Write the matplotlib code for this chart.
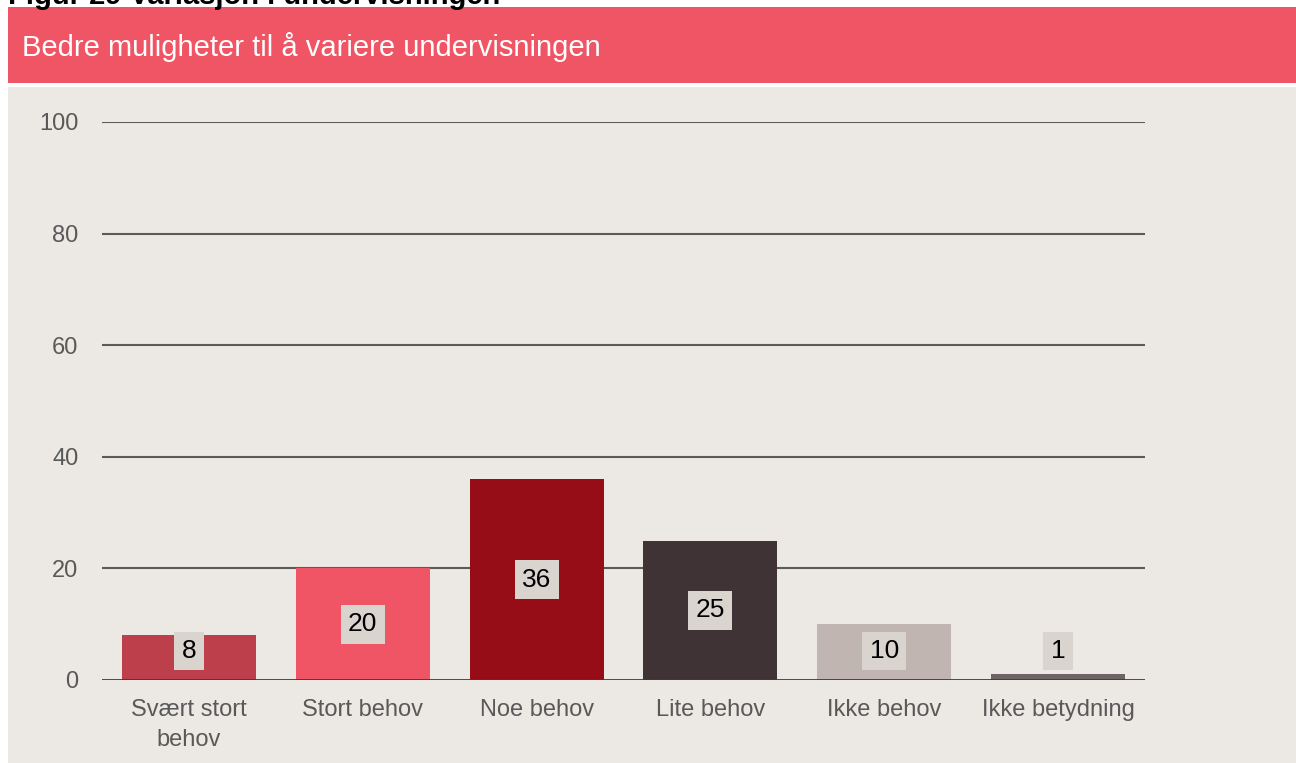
import matplotlib.pyplot as plt
from matplotlib.patches import Rectangle

plt.rcParams['font.family'] = ['Liberation Sans', 'DejaVu Sans']

categories = ["Svært stort\nbehov", "Stort behov", "Noe behov", "Lite behov", "Ikke behov", "Ikke betydning"]
values = [8, 20, 36, 25, 10, 1]
colors = ["#BE3F4C", "#F05565", "#960D18", "#3F3336", "#C0B5B0", "#6E6466"]
yticks = [0, 20, 40, 60, 80, 100]

W, H = 1296, 763
fig = plt.figure(figsize=(W / 100, H / 100), dpi=100)
fig.patch.set_facecolor("white")

# header banner and panel background
fig.patches.append(Rectangle((8 / W, 1 - 83 / H), 1 - 8 / W, 76 / H, transform=fig.transFigure,
                             facecolor="#F05565", edgecolor="none", zorder=-2))
fig.patches.append(Rectangle((8 / W, 0), 1 - 8 / W, 1 - 87 / H, transform=fig.transFigure,
                             facecolor="#ECE8E3", edgecolor="none", zorder=-2))
fig.text(8 / W, 1 - 4 / H, "Figur 29 Variasjon i undervisningen", fontsize=21, fontweight="bold",
         va="baseline", ha="left", color="black")
fig.text(22 / W, 1 - 47 / H, "Bedre muligheter til å variere undervisningen", fontsize=21,
         va="center", ha="left", color="white")

ax = fig.add_axes([102 / W, 1 - 680 / H, (1145 - 102) / W, (680 - 122) / H])
ax.set_zorder(1)
ax.set_facecolor("none")
x = range(len(values))
ax.bar(x, values, width=0.77, color=colors, zorder=2)
ax.set_xlim(-0.5, len(values) - 0.5)
ax.set_ylim(0, 100)
ax.set_yticks(yticks)
ax.set_xticks(list(x))
ax.set_xticklabels(categories, linespacing=1.45)
for yv in yticks[1:]:
    ax.axhline(yv, color="#5A5A5A", lw=1.5, zorder=1)
ax.axhline(0, color="#403A3B", lw=2, zorder=3)
for s in ax.spines.values():
    s.set_visible(False)
ax.tick_params(axis="both", length=0, labelsize=17, labelcolor="#595959")
ax.tick_params(axis="y", pad=17)
ax.tick_params(axis="x", pad=14)

for i, v in enumerate(values):
    ax.text(i, max(v / 2, 5.2), str(v), ha="center", va="center", fontsize=19, color="black", zorder=4,
            bbox=dict(boxstyle="square,pad=0.28", facecolor="#DAD4CE", edgecolor="none"))

fig.savefig("out.png", dpi=100, facecolor=fig.get_facecolor())
